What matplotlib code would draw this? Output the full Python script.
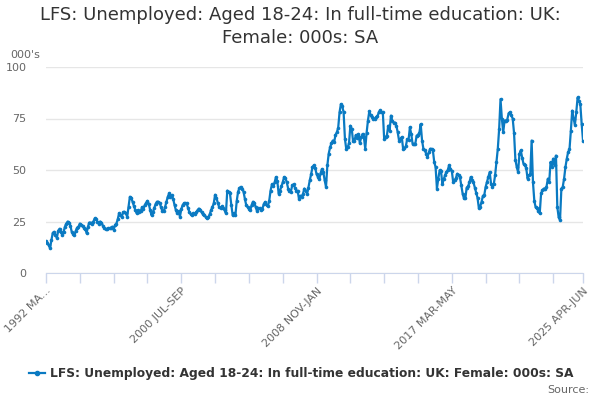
import numpy as np
import matplotlib
matplotlib.use("Agg")
import matplotlib.pyplot as plt

# quarterly rolling periods, start 1992 MAR-MAY
start_year = 1992
start_month = 3  # March
months = ['JAN', 'FEB', 'MAR', 'APR', 'MAY', 'JUN', 'JUL', 'AUG', 'SEP', 'OCT', 'NOV', 'DEC']

values = [
    15.3, 14.5, 13.5, 12, 16, 19.5, 20, 18.5, 17, 20.5, 21.5, 20, 18.5, 20, 22.5, 24, 25, 24.5, 23, 20,
    19, 18.5, 20.5, 22, 22.5, 24, 23.5, 23, 22, 21.5, 19.3, 22.5, 24.5, 24.5, 24, 25, 26.5, 26, 25, 24,
    25, 24.5, 23, 22, 21.2, 21.4, 21.7, 21.7, 22, 22.5, 21, 23.3, 24, 26, 29, 28, 27.3, 29.5, 29.7, 29,
    27.3, 32, 37, 36.5, 34.5, 32.5, 30.5, 29, 30.5, 29.5, 30, 32, 31.3, 33, 34, 35, 33.5, 30.5, 28, 29.5,
    31.5, 33.5, 34.6, 34.6, 34, 32, 30, 30, 32, 34.6, 37, 38.6, 37, 37.8, 36, 33, 30.5, 29, 30, 27.3,
    31, 33, 33.8, 33.8, 33.8, 31.5, 29.5, 28.5, 28, 29, 28.5, 29.5, 30.5, 31.3, 30.5, 29.5, 28.5, 28, 27.3, 26.5,
    27, 28.5, 30.5, 32, 33.8, 38, 36.5, 34, 32, 31.5, 32.3, 31.5, 30.5, 29, 40, 39.5, 38.6, 33, 28, 29,
    28, 35, 39.5, 41.2, 41.8, 41, 39.5, 36, 33, 32, 31.3, 30.5, 33, 34.6, 34, 32, 30, 31.5, 31.5, 30.5,
    31.3, 33.5, 34.5, 33, 32.5, 35, 40, 43, 42, 44, 46.6, 44.5, 38.5, 40, 42, 44, 46.6, 46, 44, 41,
    40, 39.5, 42.5, 43, 41.5, 40, 40, 36, 37.5, 37, 38.5, 41, 40, 38.5, 41.5, 45, 48, 51.4, 52.3, 51,
    48, 46.6, 45.5, 48.5, 50.5, 49, 45, 41.8, 52.3, 58, 61, 63, 64.3, 63.5, 67, 68.3, 70.5, 78, 82, 81,
    78, 65, 60, 61, 63, 71.5, 70, 64, 64, 67, 65.5, 67.5, 63, 66, 67.5, 66, 60.3, 68, 74, 78.5,
    76.5, 75.6, 75, 75, 75.5, 76, 78, 79, 78, 78, 65, 66, 66.7, 71.5, 69, 76.4, 74, 73, 73, 71.5,
    68.3, 64.3, 65, 66, 60.3, 60.5, 61.5, 65, 64.5, 70.7, 67.5, 62.7, 62.7, 62.7, 66.7, 67, 68, 72.3, 64.3, 60.3,
    59.5, 58, 56.3, 58.5, 60.3, 60.3, 59.5, 53.9, 51.4, 41, 45.8, 49.8, 49.5, 43.4, 45.5, 47.4, 49, 50, 52.3, 50.6,
    49.5, 44.2, 45, 46, 48.2, 47.4, 46.6, 42.5, 38.5, 36.2, 36.2, 41.5, 42, 44, 46.6, 45, 44, 41.5, 39, 36.5,
    31.5, 32.2, 34.6, 37.5, 37.8, 41.8, 44.2, 46.6, 49, 43.4, 41.8, 43, 47.4, 53.9, 60.3, 70, 84.4, 75, 68.3, 74,
    74, 74.5, 77.5, 78, 76.5, 75, 68, 55, 51.4, 49, 57.9, 59.5, 56, 53, 52.3, 51, 45.8, 47.4, 48, 64.3,
    44, 35, 31.8, 31.4, 30, 29, 38.6, 40.2, 41, 41, 41.8, 45.8, 44, 53.9, 51.4, 55.5, 52.3, 57, 32, 27,
    25.7, 41, 41.8, 45.8, 51.4, 55.5, 58.7, 60, 69, 78.8, 75, 72, 78, 85.2, 83.5, 82, 72.3, 64.3,
]

categories = []
for i in range(len(values)):
    m = start_month - 1 + i
    y = start_year + m // 12
    m1 = months[m % 12]
    m3 = months[(m + 2) % 12]
    categories.append(f"{y} {m1}-{m3}")

title = "LFS: Unemployed: Aged 18-24: In full-time education: UK:\nFemale: 000s: SA"
series_name = "LFS: Unemployed: Aged 18-24: In full-time education: UK: Female: 000s: SA"
y_ticks = [0, 25, 50, 75, 100]

color = '#0a7ac2'
grey = '#666666'

fig = plt.figure(figsize=(6, 4), dpi=100)
ax = fig.add_axes([0.0767, 0.3175, 0.895, 0.515])

x = np.arange(len(values))
ax.plot(x, values, color=color, lw=1.6, marker='o', ms=2.6, mew=0, zorder=3)

ax.set_xlim(0, len(values) - 1)
ax.set_ylim(0, 100)
ax.set_yticks(y_ticks)
ax.set_yticklabels([str(v) for v in y_ticks], color=grey, fontsize=8)
ax.tick_params(axis='y', length=0, pad=14)
ax.grid(axis='y', color='#e6e6e6', lw=1)
ax.set_axisbelow(True)

n = len(values)
ticks = list(range(0, n, 25)) + [n - 1]
ax.set_xticks(ticks)
labels = []
for t in ticks:
    if t == 0:
        labels.append(categories[0][:7] + "...")
    elif t % 100 == 0 or t == n - 1:
        labels.append(categories[t])
    else:
        labels.append("")
ax.set_xticklabels(labels, rotation=45, ha='right', rotation_mode='anchor',
                   color=grey, fontsize=8)
ax.tick_params(axis='x', length=7, color='#ccd6eb', width=1, pad=2)

for s in ['top', 'right', 'left']:
    ax.spines[s].set_visible(False)
ax.spines['bottom'].set_color('#ccd6eb')

fig.text(0.5, 0.985, title, ha='center', va='top', fontsize=13, color='#333333',
         linespacing=1.35)
fig.text(0.017, 0.862, "000's", ha='left', va='center', fontsize=8, color=grey)

# legend
fig.lines.append(plt.Line2D([0.048, 0.075], [0.067, 0.067], color=color, lw=1.6,
                            transform=fig.transFigure))
fig.lines.append(plt.Line2D([0.0615], [0.067], color=color, marker='o', ms=3,
                            lw=0, transform=fig.transFigure))
fig.text(0.083, 0.067, series_name, ha='left', va='center', fontsize=8.8,
         fontweight='bold', color='#333333')
fig.text(0.982, 0.025, "Source:", ha='right', va='center', fontsize=8, color=grey)

fig.savefig('out.png', dpi=100)
